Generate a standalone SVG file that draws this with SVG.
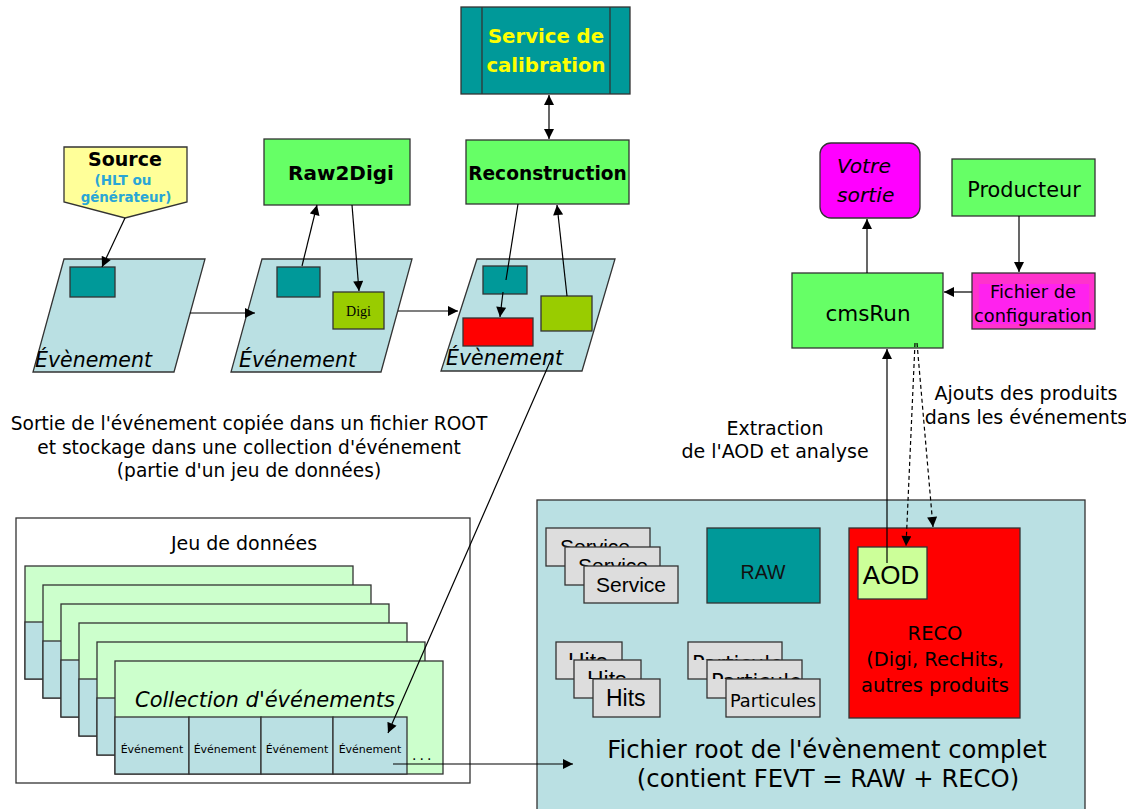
<svg xmlns="http://www.w3.org/2000/svg" xmlns:xlink="http://www.w3.org/1999/xlink" width="1126" height="809" viewBox="0 0 1126 809">
<style>
  .s { stroke:#333; stroke-width:1.3; }
  .t { font-family:"DejaVu Sans", "Liberation Sans", sans-serif; fill:#000; }
  .a { font-family:"Liberation Sans", Arial, sans-serif; fill:#000; }
  .b { font-weight:bold; }
  .i { font-style:italic; }
  .m { text-anchor:middle; }
  .ln { fill:none; stroke:#000; stroke-width:1.2; }
  .dash { fill:none; stroke:#000; stroke-width:1.2; stroke-dasharray:4,3; }
  .teal { fill:#009999; }
  .grn { fill:#66ff66; }
  .lb { fill:#bae0e3; }
  .lg { fill:#ccffcc; }
  .gray { fill:#dddddd; }
</style>
<defs>
  <marker id="ah" viewBox="0 0 10 10" refX="10" refY="5" markerWidth="11" markerHeight="10" orient="auto-start-reverse" markerUnits="userSpaceOnUse">
    <path d="M0,0 L10,5 L0,10 z" fill="#000"/>
  </marker>
  <g id="cardshape">
    <rect x="0" y="0" width="328" height="113" class="lg s"/>
    <rect x="0" y="56" width="74" height="57" class="lb s"/>
    <rect x="74" y="56" width="72" height="57" class="lb s"/>
    <rect x="146" y="56" width="72" height="57" class="lb s"/>
    <rect x="218" y="56" width="74" height="57" class="lb s"/>
  </g>
  <clipPath id="c-sv1"><rect x="546" y="528" width="104" height="19"/></clipPath>
  <clipPath id="c-sv2"><rect x="565" y="547" width="95" height="19"/></clipPath>
  <clipPath id="c-h1"><rect x="556" y="642" width="66" height="18"/></clipPath>
  <clipPath id="c-h2"><rect x="574" y="660" width="67" height="19"/></clipPath>
  <clipPath id="c-p1"><rect x="688" y="642" width="94" height="18"/></clipPath>
  <clipPath id="c-p2"><rect x="707" y="660" width="95" height="19"/></clipPath>
</defs>
<rect width="1126" height="809" fill="#ffffff"/>

<!-- Service de calibration -->
<g id="service-calibration">
  <rect x="461" y="7" width="169" height="87" class="teal s"/>
  <line x1="482" y1="7" x2="482" y2="94" class="s"/>
  <line x1="610" y1="7" x2="610" y2="94" class="s"/>
  <text x="546" y="43" class="t b m" font-size="19.7" style="fill:#ffff00">Service de</text>
  <text x="546" y="72" class="t b m" font-size="19.7" style="fill:#ffff00">calibration</text>
</g>

<!-- Reconstruction -->
<g id="reconstruction">
  <rect x="466" y="140" width="163" height="64" class="grn s"/>
  <text x="547.5" y="180" class="t b m" font-size="18.6">Reconstruction</text>
</g>

<!-- Raw2Digi -->
<g id="raw2digi">
  <rect x="264" y="139" width="146" height="66" class="grn s"/>
  <text x="341" y="180" class="t b m" font-size="20">Raw2Digi</text>
</g>

<!-- Source -->
<g id="source">
  <polygon points="64,147 187,147 187,202 125,218 64,202" fill="#ffff99" class="s"/>
  <text x="125" y="166" class="t b m" font-size="19">Source</text>
  <text x="123" y="185" class="t b m" font-size="13.6" style="fill:#2aa6d6">(HLT ou</text>
  <text x="126" y="202" class="t b m" font-size="13.4" style="fill:#2aa6d6">générateur)</text>
</g>

<!-- Events -->
<g id="event1">
  <polygon points="64,259 205,259 174,372 33,372" class="lb s"/>
  <rect x="70" y="267" width="45" height="30" class="teal s"/>
  <text x="35" y="367" class="t i" font-size="20.5">Évènement</text>
</g>
<g id="event2">
  <polygon points="262,259 412,259 381,372 231,372" class="lb s"/>
  <rect x="277" y="267" width="43" height="30" class="teal s"/>
  <rect x="333" y="292" width="51" height="37" fill="#99cc00" class="s"/>
  <text x="358.5" y="316" font-family="Liberation Serif, serif" font-size="14" text-anchor="middle" fill="#000">Digi</text>
  <text x="239" y="367" class="t i" font-size="20.5">Événement</text>
</g>
<g id="event3">
  <polygon points="477,259 615,259 582,371 441,371" class="lb s"/>
  <rect x="483" y="266" width="44" height="28" class="teal s"/>
  <rect x="463" y="318" width="70" height="28" fill="#ff0000" class="s"/>
  <rect x="541" y="296" width="51" height="35" fill="#99cc00" class="s"/>
  <text x="446" y="365" class="t i" font-size="20.5">Évènement</text>
</g>

<!-- Caption -->
<g id="caption">
  <text x="249" y="430" class="t m" font-size="18.6">Sortie de l'événement copiée dans un fichier ROOT</text>
  <text x="249" y="454" class="t m" font-size="18.6">et stockage dans une collection d'événement</text>
  <text x="249" y="477" class="t m" font-size="18.6">(partie d'un jeu de données)</text>
</g>

<!-- Right side -->
<g id="votre-sortie">
  <rect x="820" y="143" width="100" height="75" rx="11" fill="#ff00ff" class="s"/>
  <text x="837" y="173" class="t i" font-size="20.3">Votre</text>
  <text x="837" y="202" class="t i" font-size="20.3">sortie</text>
</g>
<g id="producteur">
  <rect x="952" y="159" width="143" height="57" class="grn s"/>
  <text x="1024" y="197" class="t m" font-size="20.8">Producteur</text>
</g>
<g id="cmsrun">
  <rect x="792" y="273" width="151" height="75" class="grn s"/>
  <text x="868" y="321" class="t m" font-size="21.5">cmsRun</text>
</g>
<g id="fichier-config">
  <rect x="972" y="273" width="123" height="56" fill="#ff33cc" class="s"/>
  <rect x="979" y="284" width="110" height="40" fill="#ff22ee"/>
  <text x="1033" y="298" class="t m" font-size="17.8">Fichier de</text>
  <text x="1033" y="322" class="t m" font-size="17.8">configuration</text>
</g>

<g id="labels-right">
  <text x="775" y="435" class="t m" font-size="19">Extraction</text>
  <text x="775" y="458" class="t m" font-size="19">de l'AOD et analyse</text>
  <text x="1026" y="400" class="t m" font-size="19">Ajouts des produits</text>
  <text x="1026" y="424" class="t m" font-size="19">dans les événements</text>
</g>

<!-- Fichier root -->
<g id="fichier-root">
  <rect x="537" y="500" width="548" height="320" class="lb s"/>
  <text x="827" y="758" class="t m" font-size="24.3">Fichier root de l'évènement complet</text>
  <text x="828" y="787" class="t m" font-size="24.3">(contient FEVT = RAW + RECO)</text>
</g>
<g id="service-stack">
  <rect x="546" y="528" width="104" height="38" class="gray s"/>
  <text x="560" y="554" class="a" font-size="21" clip-path="url(#c-sv1)">Service</text>
  <rect x="565" y="547" width="95" height="38" class="gray s"/>
  <text x="578" y="573" class="a" font-size="21" clip-path="url(#c-sv2)">Service</text>
  <rect x="584" y="566" width="94" height="37" class="gray s"/>
  <text x="596" y="592" class="a" font-size="21">Service</text>
</g>
<g id="raw">
  <rect x="707" y="528" width="113" height="75" class="teal s"/>
  <text x="763" y="579" class="a m" font-size="19.5" style="fill:#111">RAW</text>
</g>
<g id="hits-stack">
  <rect x="556" y="642" width="66" height="37" class="gray s"/>
  <text x="568" y="670" class="a" font-size="23" clip-path="url(#c-h1)">Hits</text>
  <rect x="574" y="660" width="67" height="38" class="gray s"/>
  <text x="587" y="688" class="a" font-size="23" clip-path="url(#c-h2)">Hits</text>
  <rect x="593" y="679" width="67" height="38" class="gray s"/>
  <text x="606" y="706" class="a" font-size="23">Hits</text>
</g>
<g id="particules-stack">
  <rect x="688" y="642" width="94" height="37" class="gray s"/>
  <text x="692" y="671" class="t" font-size="21" clip-path="url(#c-p1)">Particules</text>
  <rect x="707" y="660" width="95" height="38" class="gray s"/>
  <text x="711" y="689" class="t" font-size="21" clip-path="url(#c-p2)">Particules</text>
  <rect x="726" y="679" width="94" height="38" class="gray s"/>
  <text x="773" y="707" class="t m" font-size="17.8">Particules</text>
</g>
<g id="reco">
  <rect x="849" y="528" width="171" height="190" fill="#ff0000" class="s"/>
  <text x="935" y="640" class="t m" font-size="19.5">RECO</text>
  <text x="935" y="666" class="t m" font-size="19.5">(Digi, RecHits,</text>
  <text x="935" y="692" class="t m" font-size="19.5">autres produits</text>
</g>
<g id="aod">
  <rect x="858" y="547" width="69" height="52" fill="#ccff99" class="s"/>
  <text x="891" y="584" class="a m" font-size="26">AOD</text>
</g>

<!-- Dataset -->
<g id="jeu-de-donnees">
  <rect x="16" y="518" width="454" height="265" fill="#ffffff" class="s"/>
  <text x="244" y="550" class="t m" font-size="19">Jeu de données</text>
</g>
<g id="card-1"><use xlink:href="#cardshape" x="25" y="566"/></g>
<g id="card-2"><use xlink:href="#cardshape" x="43" y="585"/></g>
<g id="card-3"><use xlink:href="#cardshape" x="61" y="604"/></g>
<g id="card-4"><use xlink:href="#cardshape" x="79" y="623"/></g>
<g id="card-5"><use xlink:href="#cardshape" x="97" y="642"/></g>
<g id="collection">
  <use xlink:href="#cardshape" x="115" y="661"/>
  <text x="135" y="707" class="t i" font-size="21">Collection d'événements</text>
  <text x="152" y="753" class="t m" font-size="11">Événement</text>
  <text x="225" y="753" class="t m" font-size="11">Événement</text>
  <text x="297" y="753" class="t m" font-size="11">Événement</text>
  <text x="370" y="753" class="t m" font-size="11">Événement</text>
  <text x="412" y="760" class="t" font-size="14" letter-spacing="3">...</text>
</g>

<!-- Connectors -->
<g id="connectors">
  <line x1="549" y1="95" x2="549" y2="139" class="ln" marker-start="url(#ah)" marker-end="url(#ah)"/>
  <line x1="125" y1="218" x2="102" y2="267" class="ln" marker-end="url(#ah)"/>
  <line x1="190" y1="313" x2="255" y2="313" class="ln" marker-end="url(#ah)"/>
  <line x1="398" y1="311" x2="458" y2="311" class="ln" marker-end="url(#ah)"/>
  <line x1="302" y1="266" x2="317" y2="205" class="ln" marker-end="url(#ah)"/>
  <line x1="352" y1="205" x2="359" y2="291" class="ln" marker-end="url(#ah)"/>
  <line x1="518" y1="204" x2="506" y2="280" class="ln"/>
  <line x1="503" y1="292" x2="500" y2="317" class="ln" marker-end="url(#ah)"/>
  <line x1="567" y1="296" x2="557" y2="205" class="ln" marker-end="url(#ah)"/>
  <line x1="553" y1="355" x2="388" y2="733" class="ln" marker-end="url(#ah)"/>
  <line x1="393" y1="764" x2="573" y2="764" class="ln" marker-end="url(#ah)"/>
  <line x1="867" y1="273" x2="867" y2="219" class="ln" marker-end="url(#ah)"/>
  <line x1="1019" y1="216" x2="1019" y2="272" class="ln" marker-end="url(#ah)"/>
  <line x1="972" y1="292" x2="944" y2="292" class="ln" marker-end="url(#ah)"/>
  <line x1="887" y1="563" x2="887" y2="349" class="ln" marker-end="url(#ah)"/>
  <line x1="915" y1="343" x2="906" y2="546" class="dash" marker-end="url(#ah)"/>
  <line x1="917" y1="343" x2="933" y2="527" class="dash" marker-end="url(#ah)"/>
</g>
</svg>
